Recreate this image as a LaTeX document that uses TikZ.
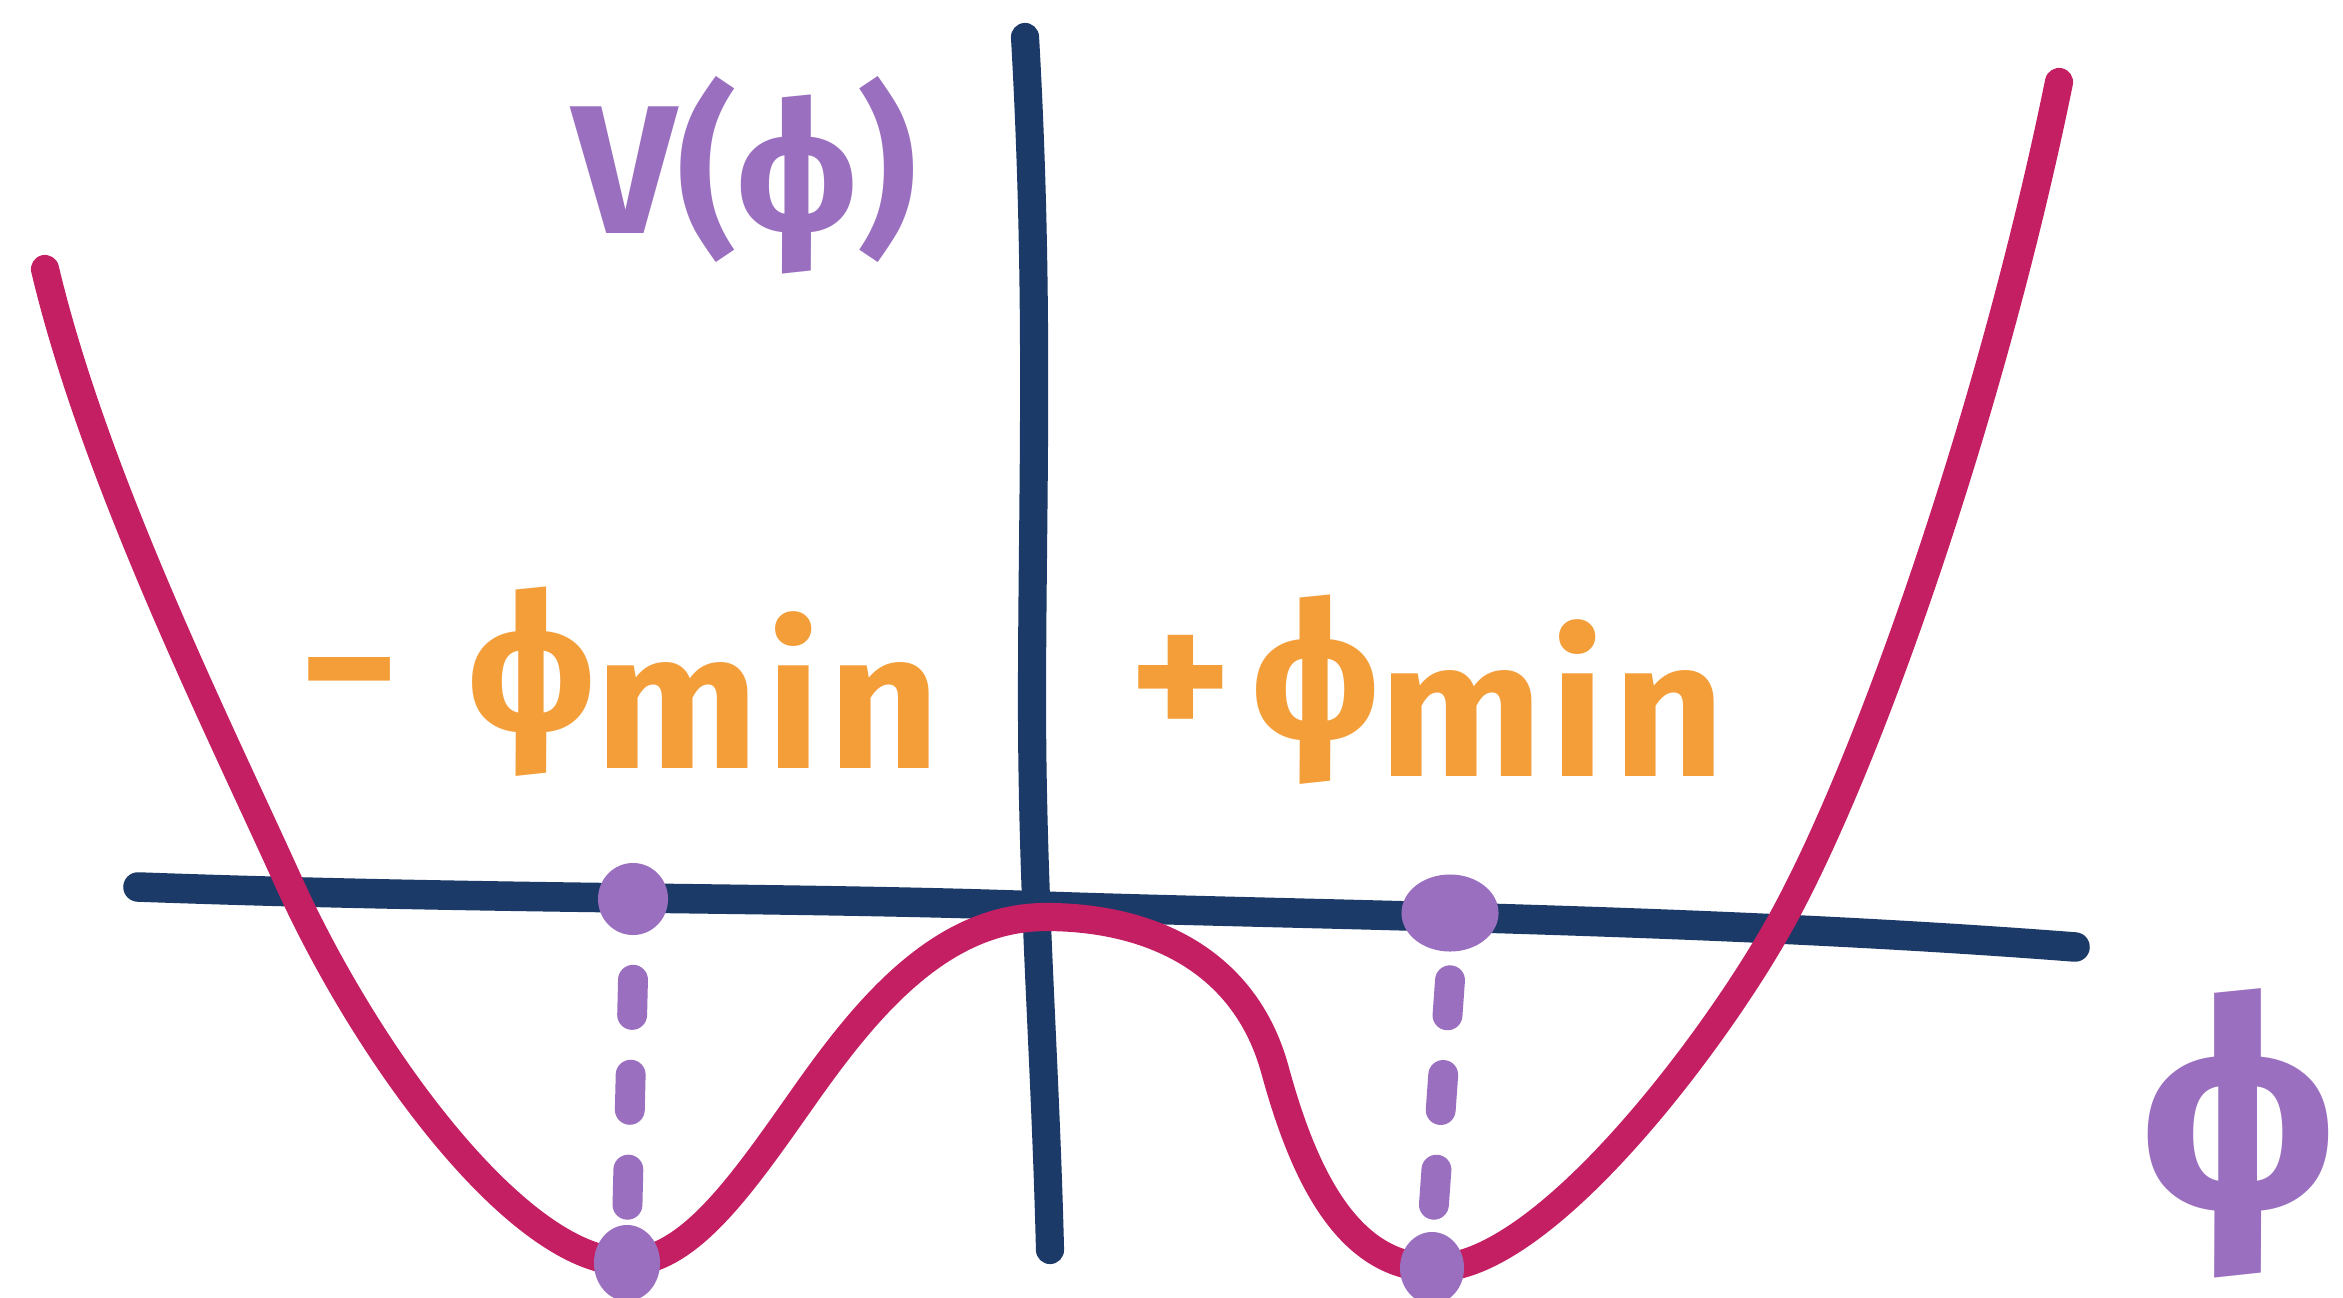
\documentclass[tikz,border=0pt]{standalone}
\usepackage{fontspec}
\setmainfont{Fira Sans}
\usetikzlibrary{shapes.geometric}
\definecolor{curvered}{HTML}{C51F63}
\definecolor{axisnavy}{HTML}{1B3A68}
\definecolor{dotpurple}{HTML}{9B6FC0}
\definecolor{lblorange}{HTML}{F49E3A}
\tikzset{
  axisline/.style={draw=axisnavy, line width=8pt, line cap=round, line join=round},
  potential/.style={draw=curvered, line width=8pt, line cap=round, line join=round},
  mindot/.style={ellipse, fill=dotpurple, inner sep=0pt},
  dropline/.style={draw=dotpurple, line width=8.5pt, line cap=round, dash pattern=on 10pt off 17pt},
  purplelbl/.style={text=dotpurple, font=\bfseries\fontsize{52}{58}\selectfont},
  orangelbl/.style={text=lblorange, font=\bfseries\fontsize{55}{60}\selectfont},
}
\newcommand{\minsub}{\raisebox{-0.18em}{\addfontfeature{LetterSpace=4}min}}
\begin{document}
\begin{tikzpicture}[x=0.01cm, y=-0.01cm]
\useasboundingbox[fill=white] (0,0) rectangle (2343,1297);
% axes
\draw[axisline] (1025,37) .. controls (1040,300) and (1032,500) .. (1032,700)
  .. controls (1032,900) and (1045,1050) .. (1050,1250);
\draw[axisline, line width=8.4pt] (138,887) .. controls (500,900) and (800,897) .. (1041,906)
  .. controls (1300,915) and (1700,918) .. (2075,947);
% potential curve
\draw[potential] (45,269) .. controls (95,480) and (220,730) .. (290,885)
  .. controls (370,1060) and (520,1262) .. (627,1262)
  .. controls (690,1262) and (745,1180) .. (805,1095)
  .. controls (865,1010) and (940,917) .. (1046,917)
  .. controls (1150,917) and (1245,960) .. (1275,1070)
  .. controls (1305,1180) and (1350,1268) .. (1435,1268)
  .. controls (1540,1268) and (1700,1060) .. (1770,941)
  .. controls (1860,790) and (1990,420) .. (2059,82);
% dots
\node[mindot, minimum width=0.70cm, minimum height=0.72cm] (lt) at (633,899) {};
\node[mindot, minimum width=0.97cm, minimum height=0.77cm] (rt) at (1450,913) {};
\node[mindot, minimum width=0.66cm, minimum height=0.76cm] (lb) at (627,1263) {};
\node[mindot, minimum width=0.64cm, minimum height=0.72cm] (rb) at (1432,1268) {};
\draw[dropline] ([yshift=-0.44cm]lt.south) coordinate (ls) -- (lb.north);
\draw[dropline] ([yshift=-0.28cm]rt.south) coordinate (rs) -- (rb.north);
% labels
\node[purplelbl] (vlabel) at (745,175) {V(ϕ)};
\node[orangelbl] (neglabel) at (620,682) {−\hspace{0.35em}ϕ\minsub};
\node[orangelbl] (poslabel) at (1427,690) {+\hspace{0.1em}ϕ\minsub};
\node[purplelbl, font=\bfseries\fontsize{84}{92}\selectfont] (philabel) at (2238,1133) {ϕ};
\end{tikzpicture}
\end{document}
